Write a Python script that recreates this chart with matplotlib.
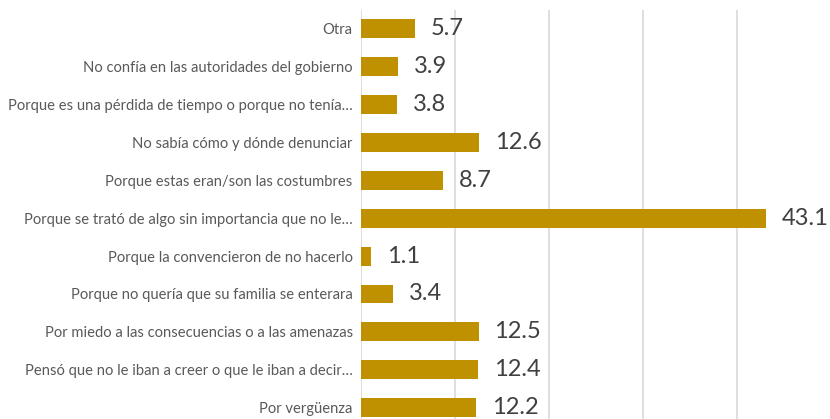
import matplotlib
matplotlib.use("Agg")
import matplotlib.pyplot as plt

categories = [
    "Otra",
    "No confía en las autoridades del gobierno",
    "Porque es una pérdida de tiempo o porque no tenía…",
    "No sabía cómo y dónde denunciar",
    "Porque estas eran/son las costumbres",
    "Porque se trató de algo sin importancia que no le…",
    "Porque la convencieron de no hacerlo",
    "Porque no quería que su familia se enterara",
    "Por miedo a las consecuencias o a las amenazas",
    "Pensó que no le iban a creer o que le iban a decir…",
    "Por vergüenza",
]
values = [5.7, 3.9, 3.8, 12.6, 8.7, 43.1, 1.1, 3.4, 12.5, 12.4, 12.2]
xticks = [0, 10, 20, 30, 40, 50]

plt.rcParams['font.family'] = ['Lato', 'DejaVu Sans']

W, H = 830, 419
fig = plt.figure(figsize=(W / 100, H / 100), dpi=100)
fig.patch.set_facecolor("white")
ax = fig.add_axes([361 / W, 1 - 426.5 / H, (831 - 361) / W, (426.5 - 10) / H])

y = list(range(len(categories)))
ax.barh(y, values, height=0.5, color="#BF9000", zorder=3)
ax.set_ylim(len(categories) - 0.5, -0.5)
ax.set_xlim(0, 50)
ax.set_xticks(xticks)
ax.set_xticklabels([])
ax.tick_params(axis="x", length=0)
ax.grid(axis="x", color="#D9D9D9", linewidth=1.2, zorder=0)
ax.set_yticks(y)
ax.set_yticklabels(categories, fontsize=10.6, color="#595959")
ax.tick_params(axis="y", length=0, pad=6)
for s in ax.spines.values():
    s.set_visible(False)
ax.set_facecolor("none")

for yi, v in zip(y, values):
    ax.annotate(f"{v:.1f}", xy=(v, yi), xytext=(11.5, 0), textcoords="offset points",
                ha="left", va="center", fontsize=17, color="#404040", zorder=4,
                annotation_clip=False)

fig.savefig("out.png", dpi=100)
